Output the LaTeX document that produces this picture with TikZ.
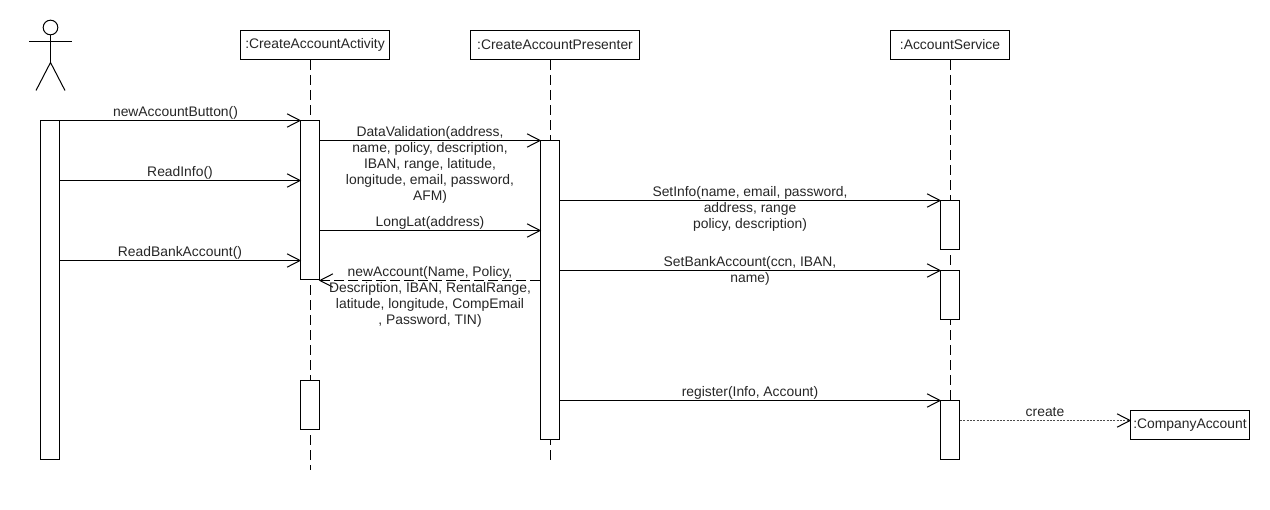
\documentclass[tikz,border=0pt]{standalone}
\usepackage{fontspec}
\setmainfont{Liberation Sans}
\usetikzlibrary{arrows.meta,calc}
\tikzset{
  obj/.style={draw=black,line width=0.75pt,fill=white,inner sep=0pt,font=\fontsize{10.4pt}{12pt}\selectfont,text=black!85},
  bar/.style={draw=black,line width=0.75pt,fill=white,inner sep=0pt,minimum width=14.25pt},
  life/.style={line width=0.75pt,dash pattern=on 7.5pt off 3.75pt},
  open/.style={-{Straight Barb[length=9.75pt,width=10pt,line width=0.75pt,color=black]},shorten >=-0.9pt},
  msg/.style={line width=0.75pt,open},
  rep/.style={line width=0.75pt,open,dash pattern=on 7.5pt off 3pt},
  crt/.style={line width=0.5pt,draw=black!70,open,dash pattern=on 1.5pt off 1pt},
  lbl/.style={align=center,inner sep=0pt,font=\fontsize{10.4pt}{12pt}\selectfont,text=black!85},
  stick/.style={line width=0.75pt,draw=black},
}
\begin{document}
\begin{tikzpicture}[x=0.75pt,y=-0.75pt]
\useasboundingbox (0,0) rectangle (1270,510);
% objects
\node[obj,minimum width=111.75pt,minimum height=21.75pt] (oa) at (315,45) {:CreateAccountActivity};
\node[obj,minimum width=126.75pt,minimum height=21.75pt] (op) at (555,45) {:CreateAccountPresenter};
\node[obj,minimum width=89.25pt,minimum height=21.75pt] (os) at (950,45) {:AccountService};
\node[obj,minimum width=89.25pt,minimum height=21.75pt] (oc) at (1190,425) {:CompanyAccount};
% lifeline ends
\coordinate (ea) at (310.5,470);
\coordinate (ep) at (550.5,460);
\coordinate (es) at (950.5,400);
% lifelines
\draw[life] (ea |- oa.south) -- (ea);
\draw[life] (ep |- op.south) -- (ep);
\draw[life] (es |- os.south) -- (es);
% activations
\node[bar,minimum height=254.25pt] (ub) at (50,290) {};
\node[bar,minimum height=119.25pt] (a1) at (310,200) {};
\node[bar,minimum height=36.75pt] (a2) at (310,405) {};
\node[bar,minimum height=224.25pt] (p1) at (550,290) {};
\node[bar,minimum height=36.75pt] (s1) at (950,225) {};
\node[bar,minimum height=36.75pt] (s2) at (950,295) {};
\node[bar,minimum height=44.25pt] (s3) at (950,430) {};
% actor
\node[draw=black,line width=0.75pt,circle,minimum size=11pt,inner sep=0pt] (head) at (50.5,27.5) {};
\coordinate (hip) at (50.5,62.5);
\coordinate (arml) at (29,41.5);
\coordinate (armr) at (72,41.5);
\coordinate (legl) at (36,90.5);
\coordinate (legr) at (65,90.5);
\draw[stick] (head.south) -- (hip);
\draw[stick] (arml) -- (armr);
\draw[stick] (legl) -- (hip) -- (legr);
% messages
\draw[msg] (ub.east |- 0,120.5) -- (a1.west |- 0,120.5);
\draw[msg] (ub.east |- 0,180.5) -- (a1.west |- 0,180.5);
\draw[msg] (ub.east |- 0,260.5) -- (a1.west |- 0,260.5);
\draw[msg] (a1.east |- 0,140.5) -- (p1.west |- 0,140.5);
\draw[msg] (a1.east |- 0,230.5) -- (p1.west |- 0,230.5);
\draw[rep] (p1.west |- 0,280.5) -- (a1.east |- 0,280.5);
\draw[msg] (p1.east |- 0,200.5) -- (s1.west |- 0,200.5);
\draw[msg] (p1.east |- 0,270.5) -- (s2.west |- 0,270.5);
\draw[msg] (p1.east |- 0,400.5) -- (s3.west |- 0,400.5);
\draw[crt] (s3.east |- 0,420.5) -- (oc.west |- 0,420.5);
% labels
\node[lbl,anchor=south] (l1) at (175.5,120) {newAccountButton()};
\node[lbl,anchor=south] (l2) at (180,179.5) {ReadInfo()};
\node[lbl,anchor=south] (l3) at (180,260) {ReadBankAccount()};
\node[lbl,anchor=north] (l4) at (430,126) {DataValidation(address,\\name, policy, description,\\IBAN, range, latitude,\\longitude, email, password,\\AFM)};
\node[lbl,anchor=south] (l5) at (430,230) {LongLat(address)};
\node[lbl,anchor=north] (l6) at (430,266.5) {newAccount(Name, Policy,\\Description, IBAN, RentalRange,\\latitude, longitude, CompEmail\\, Password, TIN)};
\node[lbl,anchor=north] (l7) at (750,186.5) {SetInfo(name, email, password,\\address, range\\policy, description)};
\node[lbl,anchor=north] (l8) at (750,256) {SetBankAccount(ccn, IBAN,\\name)};
\node[lbl,anchor=south] (l9) at (750,400) {register(Info, Account)};
\node[lbl,anchor=south] (l10) at (1045,417) {create};
\end{tikzpicture}
\end{document}
